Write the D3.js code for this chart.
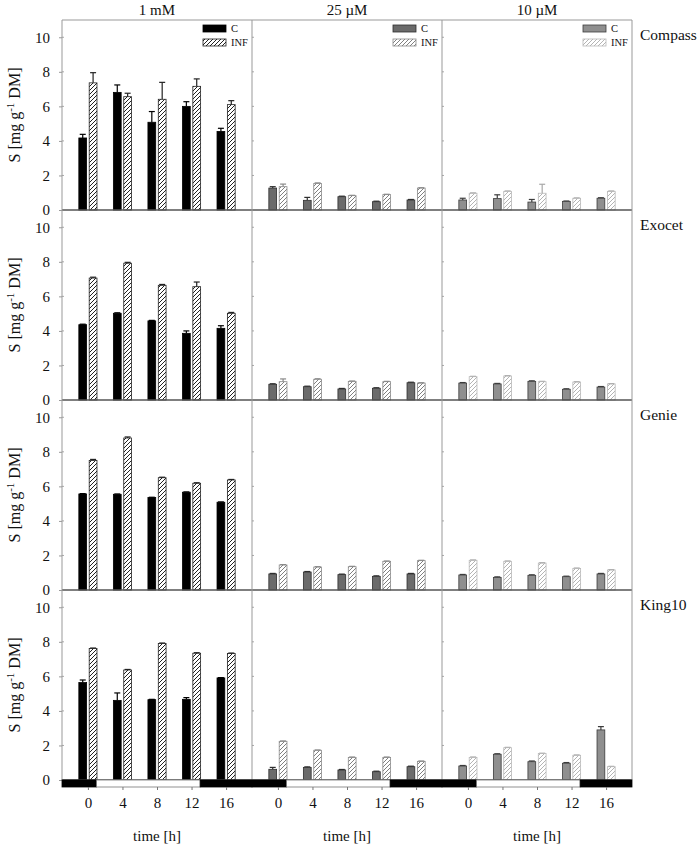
<!DOCTYPE html>
<html>
<head>
<meta charset="utf-8">
<script src="https://cdn.jsdelivr.net/npm/d3@7"></script>
<style>
  body { margin: 0; background: #fff; }
  svg { display: block; font-family: "Liberation Serif", "DejaVu Serif", serif; }
</style>
</head>
<body>
<svg id="chart" width="700" height="848"></svg>
<script>
const cultivars = ["Compass", "Exocet", "Genie", "King10"];
const concentrations = ["1 mM", "25 µM", "10 µM"];
const times = [0, 4, 8, 12, 16];
const yTicks = [0, 2, 4, 6, 8, 10];
const lightOn = 1;
const lightOff = 13;

// each array: [1 mM, 25 µM, 10 µM] x times
const compassC = [[4.17, 6.81, 5.08, 6.0, 4.55], [1.27, 0.56, 0.77, 0.48, 0.58], [0.58, 0.66, 0.46, 0.5, 0.68]];
const compassCErr = [[0.21, 0.43, 0.62, 0.27, 0.18], [0.08, 0.17, 0.03, 0.03, 0.03], [0.1, 0.22, 0.15, 0.02, 0.03]];
const compassInf = [[7.36, 6.56, 6.41, 7.16, 6.1], [1.35, 1.54, 0.83, 0.89, 1.27], [0.97, 1.08, 0.97, 0.68, 1.08]];
const compassInfErr = [[0.59, 0.2, 0.98, 0.43, 0.23], [0.15, 0.03, 0.02, 0.02, 0.02], [0.02, 0.02, 0.52, 0.02, 0.02]];

const exocetC = [[4.36, 5.02, 4.58, 3.86, 4.15], [0.91, 0.77, 0.64, 0.68, 1.0], [0.98, 0.93, 1.08, 0.62, 0.75]];
const exocetCErr = [[0.03, 0.03, 0.03, 0.14, 0.15], [0.03, 0.03, 0.03, 0.03, 0.03], [0.03, 0.03, 0.03, 0.03, 0.03]];
const exocetInf = [[7.06, 7.92, 6.64, 6.56, 5.02], [1.06, 1.2, 1.08, 1.06, 0.98], [1.35, 1.39, 1.06, 1.04, 0.93]];
const exocetInfErr = [[0.05, 0.05, 0.05, 0.27, 0.05], [0.16, 0.03, 0.02, 0.02, 0.02], [0.02, 0.02, 0.02, 0.02, 0.02]];

const genieC = [[5.56, 5.54, 5.35, 5.66, 5.08], [0.93, 1.04, 0.89, 0.79, 0.93], [0.87, 0.73, 0.85, 0.77, 0.93]];
const genieCErr = [[0.02, 0.02, 0.02, 0.02, 0.02], [0.03, 0.03, 0.03, 0.03, 0.03], [0.03, 0.03, 0.03, 0.03, 0.03]];
const genieInf = [[7.5, 8.8, 6.5, 6.18, 6.37], [1.45, 1.33, 1.35, 1.66, 1.7], [1.72, 1.66, 1.56, 1.25, 1.16]];
const genieInfErr = [[0.06, 0.06, 0.03, 0.03, 0.03], [0.02, 0.02, 0.02, 0.02, 0.02], [0.02, 0.02, 0.02, 0.02, 0.02]];

const king10C = [[5.64, 4.61, 4.65, 4.67, 5.91], [0.62, 0.73, 0.58, 0.48, 0.77], [0.81, 1.49, 1.06, 0.97, 2.9]];
const king10CErr = [[0.15, 0.43, 0.02, 0.1, 0.02], [0.11, 0.03, 0.03, 0.03, 0.03], [0.03, 0.03, 0.04, 0.04, 0.19]];
const king10Inf = [[7.61, 6.37, 7.9, 7.34, 7.32], [2.24, 1.72, 1.31, 1.31, 1.08], [1.31, 1.87, 1.53, 1.43, 0.77]];
const king10InfErr = [[0.03, 0.03, 0.03, 0.03, 0.03], [0.02, 0.02, 0.02, 0.02, 0.02], [0.02, 0.02, 0.02, 0.02, 0.02]];

const rows = [
  { c: compassC, cErr: compassCErr, inf: compassInf, infErr: compassInfErr },
  { c: exocetC, cErr: exocetCErr, inf: exocetInf, infErr: exocetInfErr },
  { c: genieC, cErr: genieCErr, inf: genieInf, infErr: genieInfErr },
  { c: king10C, cErr: king10CErr, inf: king10Inf, infErr: king10InfErr }
];

// styles per concentration column
const colStyle = [
  { cFill: "#000", cStroke: "#000", cErr: "#000", hatch: "#222", infStroke: "#222", infErr: "#222" },
  { cFill: "#6b6b6b", cStroke: "#2e2e2e", cErr: "#2e2e2e", hatch: "#808080", infStroke: "#8a8a8a", infErr: "#8a8a8a" },
  { cFill: "#8f8f8f", cStroke: "#3c3c3c", cErr: "#3c3c3c", hatch: "#b4b4b4", infStroke: "#b8b8b8", infErr: "#a8a8a8" }
];

const svg = d3.select("#chart");
const plotLeft = 62, plotTop = 20, panelW = 190, panelH = 190;

const defs = svg.append("defs");
colStyle.forEach((s, i) => {
  defs.append("pattern")
    .attr("id", `hatch${i}`)
    .attr("patternUnits", "userSpaceOnUse")
    .attr("width", 4).attr("height", 4)
    .append("path")
    .attr("d", "M-1,1 l2,-2 M0,4 l4,-4 M3,5 l2,-2")
    .attr("stroke", s.hatch)
    .attr("stroke-width", 1);
});

const y = d3.scaleLinear().domain([0, 11]).range([panelH, 0]);
const xs = concentrations.map((_, j) =>
  d3.scaleLinear().domain([-3, 19]).range([plotLeft + j * panelW, plotLeft + (j + 1) * panelW]));

const barHalfGap = 0.15, barW = 0.9;

rows.forEach((row, i) => {
  const g = svg.append("g").attr("transform", `translate(0,${plotTop + i * panelH})`);

  // y axis on the left
  g.append("g")
    .attr("transform", `translate(${plotLeft},0)`)
    .call(d3.axisLeft(y).tickValues(yTicks).tickSize(3).tickPadding(9).tickSizeOuter(0))
    .call(a => a.select(".domain").remove())
    .call(a => a.selectAll("line").attr("stroke", "#999"))
    .call(a => a.selectAll("text").attr("font-size", 15).attr("font-family", "Liberation Serif").attr("fill", "#111"));

  concentrations.forEach((conc, j) => {
    const x = xs[j];
    const s = colStyle[j];
    const pg = g.append("g");

    // small inner ticks on panel left edge
    pg.selectAll("line.ytick")
      .data(yTicks.slice(1))
      .join("line")
      .attr("x1", x(-3)).attr("x2", x(-3) + 2)
      .attr("y1", d => y(d)).attr("y2", d => y(d))
      .attr("stroke", "#aaa");

    const cData = times.map((t, k) => ({ t, v: row.c[j][k], e: row.cErr[j][k] }));
    const infData = times.map((t, k) => ({ t, v: row.inf[j][k], e: row.infErr[j][k] }));

    // error bars
    const drawErr = (data, off, color) => {
      const eg = pg.append("g").attr("stroke", color).attr("stroke-width", 1.2);
      data.forEach(d => {
        const cx = x(d.t + off);
        eg.append("line").attr("x1", cx).attr("x2", cx).attr("y1", y(d.v)).attr("y2", y(d.v + d.e));
        eg.append("line").attr("x1", cx - 3).attr("x2", cx + 3).attr("y1", y(d.v + d.e)).attr("y2", y(d.v + d.e));
      });
    };
    drawErr(cData, -barHalfGap - barW / 2, s.cErr);
    drawErr(infData, barHalfGap + barW / 2, s.infErr);

    pg.selectAll("rect.c")
      .data(cData)
      .join("rect")
      .attr("x", d => x(d.t - barHalfGap - barW))
      .attr("width", x(barW) - x(0))
      .attr("y", d => y(d.v))
      .attr("height", d => y(0) - y(d.v))
      .attr("fill", s.cFill)
      .attr("stroke", s.cStroke)
      .attr("stroke-width", 0.8);

    pg.selectAll("rect.inf")
      .data(infData)
      .join("rect")
      .attr("x", d => x(d.t + barHalfGap))
      .attr("width", x(barW) - x(0))
      .attr("y", d => y(d.v))
      .attr("height", d => y(0) - y(d.v))
      .attr("fill", `url(#hatch${j})`)
      .attr("stroke", s.infStroke)
      .attr("stroke-width", 0.8);

    // legend in first row
    if (i === 0) {
      const right = x(19);
      const lg = g.append("g").attr("font-size", 10.5).attr("fill", "#111");
      lg.append("rect").attr("x", right - 49).attr("y", 5).attr("width", 23).attr("height", 7)
        .attr("fill", s.cFill).attr("stroke", s.cStroke).attr("stroke-width", 0.8);
      lg.append("rect").attr("x", right - 49).attr("y", 19).attr("width", 23).attr("height", 7)
        .attr("fill", `url(#hatch${j})`).attr("stroke", s.infStroke).attr("stroke-width", 0.8);
      lg.append("text").attr("x", right - 21).attr("y", 12).text("C");
      lg.append("text").attr("x", right - 21).attr("y", 26).text("INF");
    }
  });

  // row label
  g.append("text")
    .attr("x", 640).attr("y", 20)
    .attr("font-size", 15.5)
    .attr("fill", "#111")
    .text(cultivars[i]);

  // y title
  const yt = g.append("text")
    .attr("transform", `translate(20,${panelH / 2}) rotate(-90)`)
    .attr("text-anchor", "middle")
    .attr("font-size", 16)
    .attr("fill", "#111");
  yt.append("tspan").text("S [mg g");
  yt.append("tspan").attr("font-size", 11).attr("dy", -6).text("-1");
  yt.append("tspan").attr("dy", 6).text(" DM]");

  // zero line
  g.append("line")
    .attr("x1", plotLeft).attr("x2", plotLeft + 3 * panelW)
    .attr("y1", y(0)).attr("y2", y(0))
    .attr("stroke", "#555").attr("stroke-width", 1.5);
});

// frame and dividers
const plotBottom = plotTop + rows.length * panelH;
svg.append("line").attr("x1", plotLeft).attr("x2", plotLeft + 3 * panelW).attr("y1", plotTop).attr("y2", plotTop)
  .attr("stroke", "#999");
d3.range(4).forEach(j => {
  svg.append("line")
    .attr("x1", plotLeft + j * panelW).attr("x2", plotLeft + j * panelW)
    .attr("y1", plotTop).attr("y2", plotBottom)
    .attr("stroke", "#999");
});

// photoperiod bar and time axis
concentrations.forEach((conc, j) => {
  const x = xs[j];
  const pb = svg.append("g");
  const periods = [
    { a: -3, b: lightOn, fill: "#000" },
    { a: lightOn, b: lightOff, fill: "#fff" },
    { a: lightOff, b: 19, fill: "#000" }
  ];
  pb.selectAll("rect")
    .data(periods)
    .join("rect")
    .attr("x", d => x(d.a))
    .attr("width", d => x(d.b) - x(d.a))
    .attr("y", plotBottom)
    .attr("height", 7)
    .attr("fill", d => d.fill)
    .attr("stroke", d => d.fill === "#fff" ? "#777" : "#000")
    .attr("stroke-width", 0.8);

  svg.append("g")
    .attr("transform", `translate(0,${plotBottom + 7})`)
    .call(d3.axisBottom(x).tickValues(times).tickSize(3).tickPadding(7).tickSizeOuter(0))
    .call(a => a.select(".domain").remove())
    .call(a => a.selectAll("line").attr("stroke", "#777"))
    .call(a => a.selectAll("text").attr("font-size", 15).attr("font-family", "Liberation Serif").attr("fill", "#111"));

  svg.append("text")
    .attr("x", x(8)).attr("y", 841)
    .attr("text-anchor", "middle")
    .attr("font-size", 15)
    .attr("fill", "#111")
    .text("time [h]");

  svg.append("text")
    .attr("x", (x(-3) + x(19)) / 2).attr("y", 15)
    .attr("text-anchor", "middle")
    .attr("font-size", 15)
    .attr("fill", "#111")
    .text(conc);
});
</script>
</body>
</html>
